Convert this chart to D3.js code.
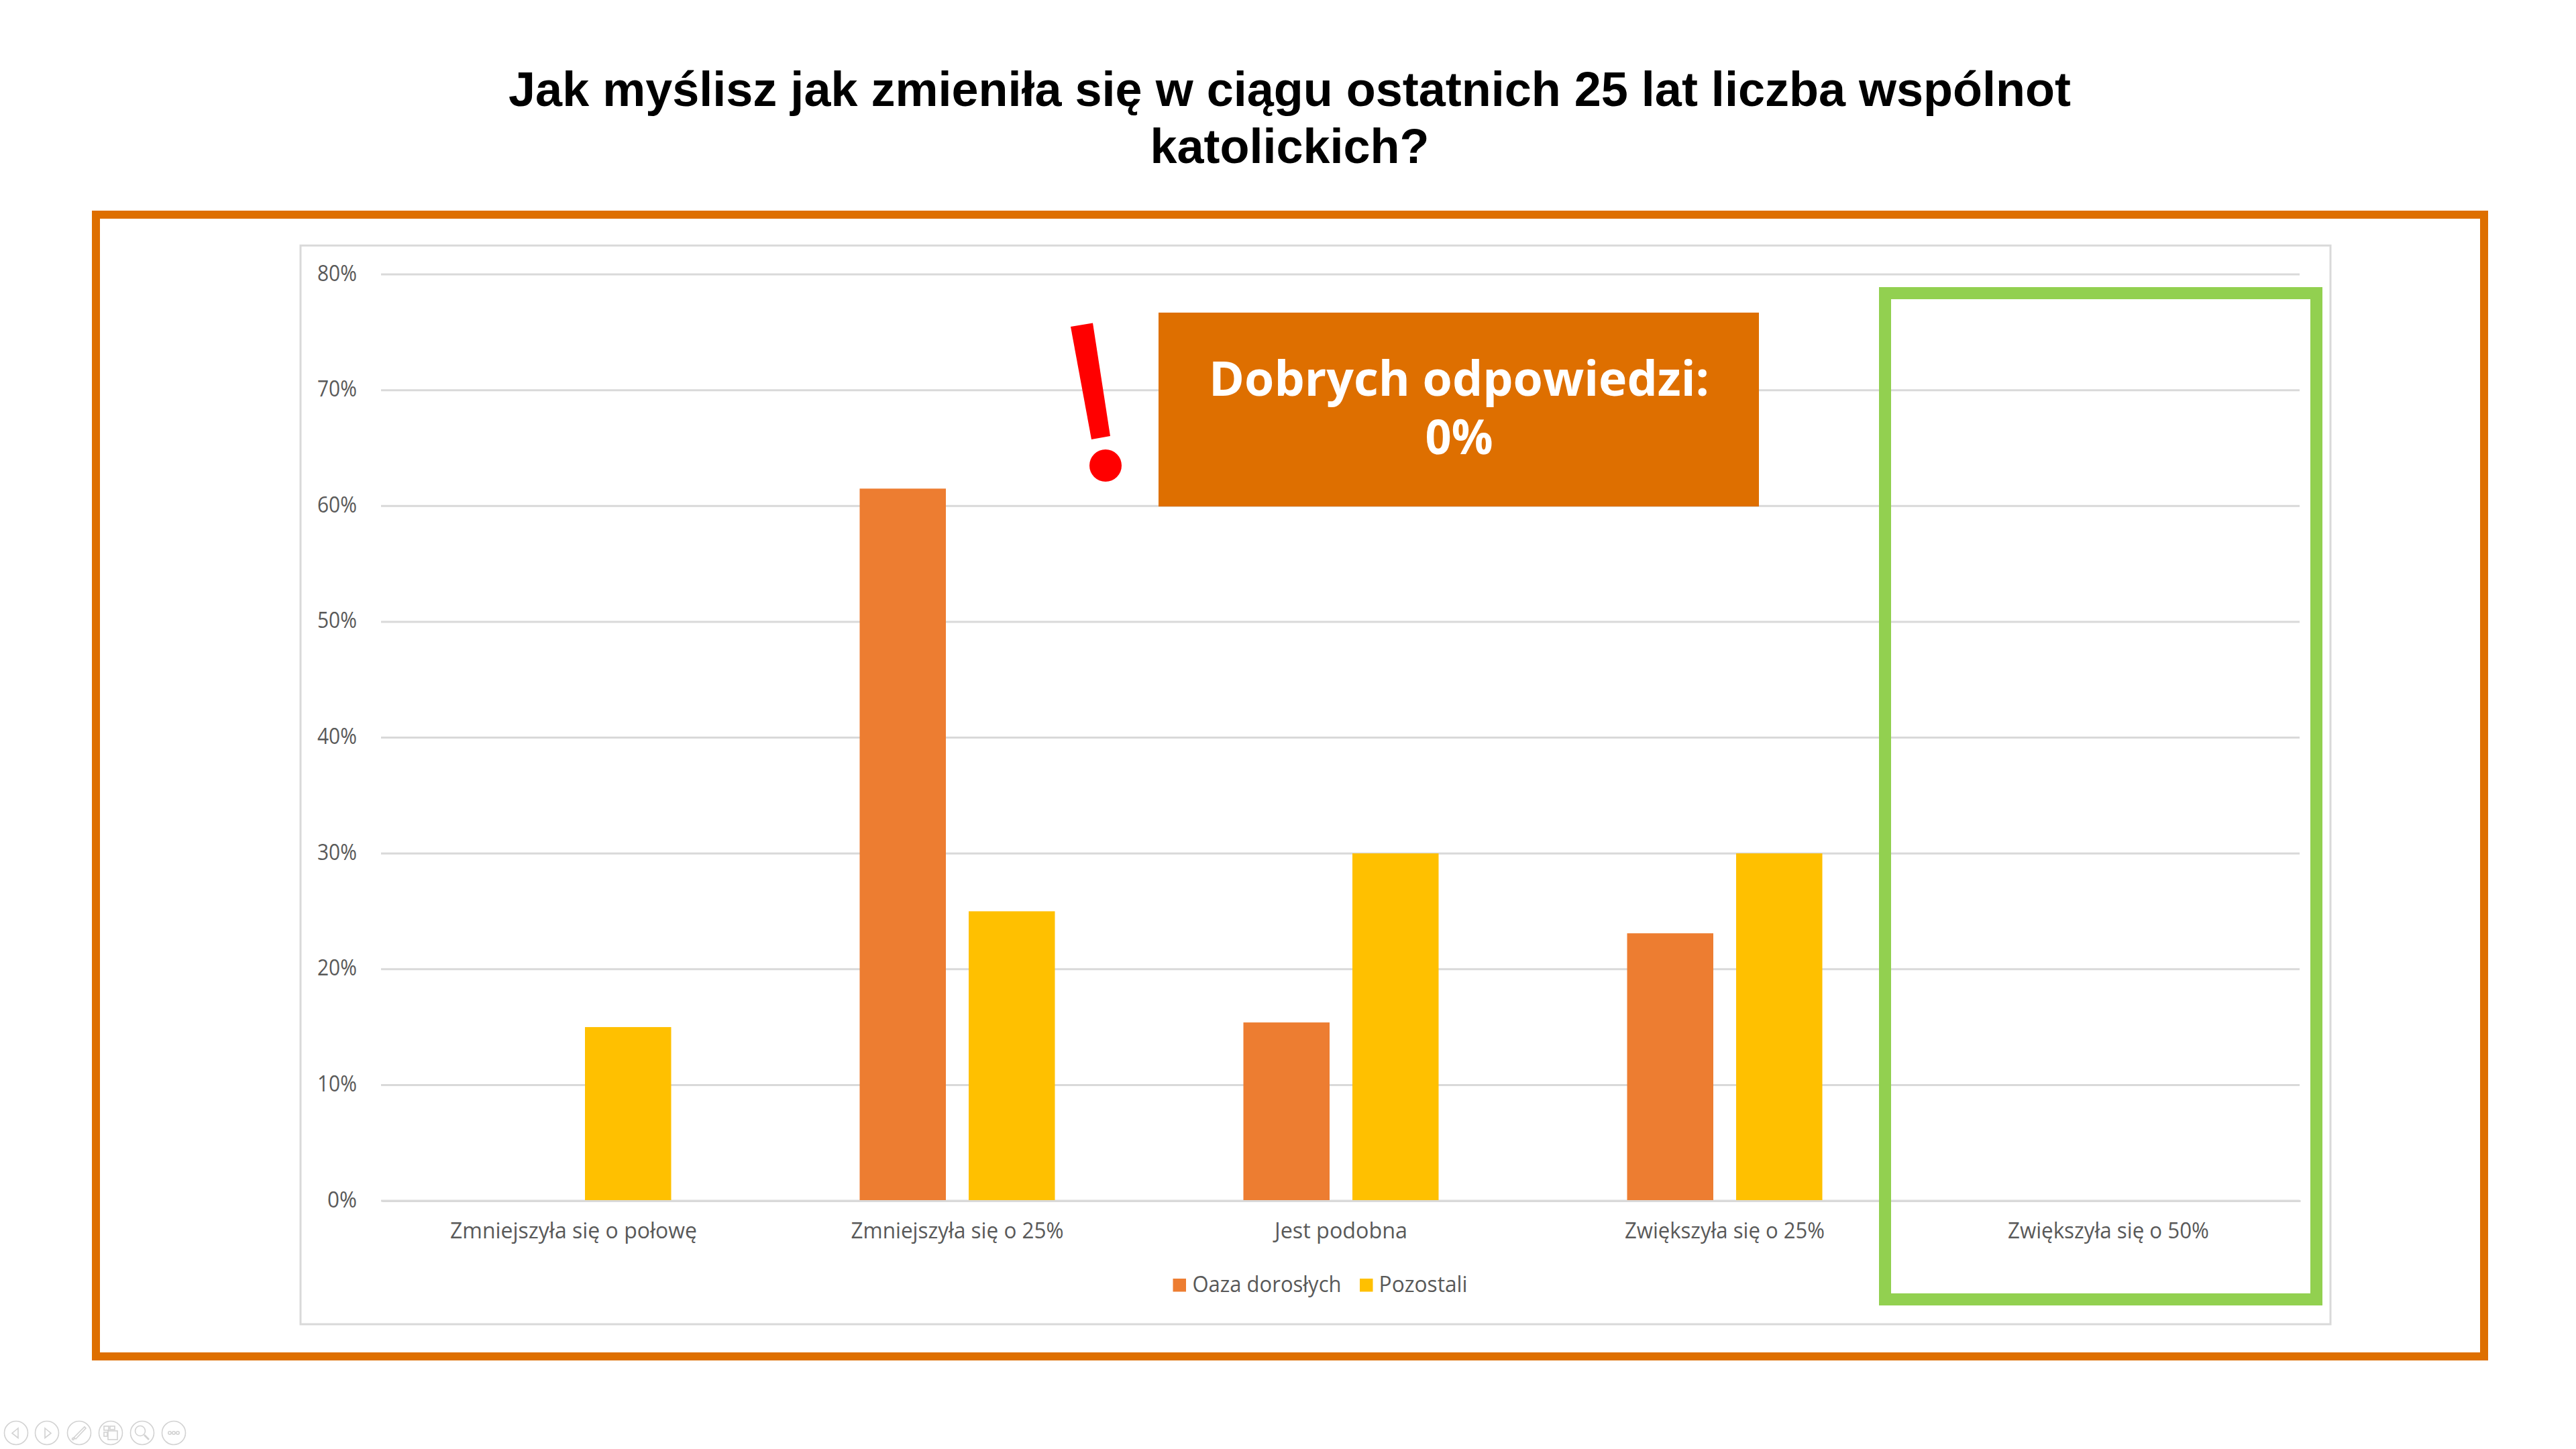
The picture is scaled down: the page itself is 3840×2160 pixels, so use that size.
<!DOCTYPE html>
<html lang="pl">
<head>
<meta charset="utf-8">
<title>Jak myślisz jak zmieniła się liczba wspólnot katolickich?</title>
<script src="https://cdn.jsdelivr.net/npm/d3@7"></script>
<style>
html,body{margin:0;padding:0;background:#fff;}
svg{display:block;}
text{font-family:"Open Sans",sans-serif;}
</style>
</head>
<body>
<script>
// ---- data ----
const categories = ["Zmniejszyła się o połowę","Zmniejszyła się o 25%","Jest podobna","Zwiększyła się o 25%","Zwiększyła się o 50%"];
const seriesNames = ["Oaza dorosłych","Pozostali"];
const oazaDoroslych = [0, 61.5, 15.4, 23.1, 0];
const pozostali = [15, 25, 30, 30, 0];
const yTicks = [0,10,20,30,40,50,60,70,80];
const titleLines = ["Jak myślisz jak zmieniła się w ciągu ostatnich 25 lat liczba wspólnot","katolickich?"];
const calloutLines = ["Dobrych odpowiedzi:","0%"];

// ---- layout and styles ----
const W=3840,H=2160;
const plot={left:568,right:3428,top:409,bottom:1790};
const C={orange:"#ED7D31",yellow:"#FFC000",frame:"#DE6F00",green:"#92D050",grid:"#D9D9D9",text:"#595959",red:"#FF0000"};
const seriesColors=[C.orange,C.yellow];
const catLabelWidths=[368,317,198,298,300];
const legendLayout=[{sw:1748.5,tx:1777.5,w:222},{sw:2027,tx:2055.6,w:132}];

const svg=d3.select("body").append("svg").attr("width",W).attr("height",H).attr("viewBox",`0 0 ${W} ${H}`);
svg.append("rect").attr("width",W).attr("height",H).attr("fill","#fff");

// title
svg.append("g").selectAll("text").data(titleLines).join("text")
  .attr("x",1922.5).attr("y",(d,i)=>158+i*85.3)
  .attr("text-anchor","middle")
  .style("font-family","'Liberation Sans',Arial,sans-serif")
  .style("font-weight",700).style("font-size","72px").attr("fill","#000")
  .text(d=>d);

// outer frame
svg.append("rect").attr("x",143).attr("y",320).attr("width",3560).attr("height",1702)
  .attr("fill","none").attr("stroke",C.frame).attr("stroke-width",12);
// chart frame
svg.append("rect").attr("x",448).attr("y",366).attr("width",3026).attr("height",1608)
  .attr("fill","#fff").attr("stroke",C.grid).attr("stroke-width",3);

// scales
const y=d3.scaleLinear().domain([0,80]).range([plot.bottom,plot.top]);
const x0=d3.scaleBand().domain(categories).range([plot.left+1,plot.right+1]);
const x1=d3.scaleBand().domain(seriesNames)
  .range([x0.bandwidth()/2-145.5,x0.bandwidth()/2+145.5]).paddingInner(34/162.5);

// y axis with gridlines
const yAxis=svg.append("g").attr("transform",`translate(${plot.left},0)`)
  .call(d3.axisLeft(y).tickValues(yTicks).tickFormat(d=>d+"%").tickSize(0).tickPadding(36));
yAxis.select(".domain").remove();
yAxis.selectAll("text").attr("fill",C.text)
  .style("font-family","'Open Sans',sans-serif").style("font-size","32px")
  .attr("textLength",d=>d===0?44:59).attr("lengthAdjust","spacingAndGlyphs").attr("dy","9px");
svg.append("g").selectAll("line").data(yTicks).join("line")
  .attr("x1",plot.left).attr("x2",plot.right).attr("y1",d=>y(d)).attr("y2",d=>y(d))
  .attr("stroke",C.grid).attr("stroke-width",3);

// bars
[oazaDoroslych,pozostali].forEach((vals,s)=>{
  svg.append("g").attr("fill",seriesColors[s]).selectAll("rect")
    .data(vals.map((v,i)=>({v,c:categories[i]})).filter(d=>d.v>0)).join("rect")
    .attr("x",d=>x0(d.c)+x1(seriesNames[s]))
    .attr("width",x1.bandwidth())
    .attr("y",d=>y(d.v))
    .attr("height",d=>y(0)-y(d.v));
});

// x axis
const xAxis=svg.append("g").attr("transform",`translate(0,${plot.bottom})`)
  .call(d3.axisBottom(x0).tickSize(0).tickPadding(30));
xAxis.select(".domain").attr("stroke",C.grid).attr("stroke-width",3);
xAxis.selectAll("text").attr("fill",C.text).attr("dy",0).attr("y",56)
  .style("font-family","'Open Sans',sans-serif").style("font-size","32px")
  .attr("textLength",(d,i)=>catLabelWidths[i]).attr("lengthAdjust","spacingAndGlyphs");

// legend
const lg=svg.append("g").selectAll("g").data(seriesNames).join("g");
lg.append("rect").attr("x",(d,i)=>legendLayout[i].sw).attr("y",1906).attr("width",19.5).attr("height",19.5)
  .attr("fill",(d,i)=>seriesColors[i]);
lg.append("text").attr("x",(d,i)=>legendLayout[i].tx).attr("y",1926)
  .attr("fill",C.text).style("font-size","32px")
  .attr("textLength",(d,i)=>legendLayout[i].w).attr("lengthAdjust","spacingAndGlyphs")
  .text(d=>d);

// green highlight
svg.append("rect").attr("x",2810).attr("y",437).attr("width",643).attr("height",1500)
  .attr("fill","none").attr("stroke",C.green).attr("stroke-width",18);

// callout
svg.append("rect").attr("x",1727).attr("y",466).attr("width",895).attr("height",289).attr("fill",C.frame);
const calloutWidths=[746,101];
svg.append("g").selectAll("text").data(calloutLines).join("text")
  .attr("x",2175).attr("y",(d,i)=>590+i*87).attr("text-anchor","middle")
  .attr("fill","#fff").style("font-weight",700).style("font-size","71px")
  .attr("textLength",(d,i)=>calloutWidths[i]).attr("lengthAdjust","spacingAndGlyphs")
  .text(d=>d);

// exclamation mark
svg.append("path").attr("d","M1596 487L1629 481.5L1655 650L1627 655Z").attr("fill",C.red);
svg.append("circle").attr("cx",1648).attr("cy",694).attr("r",24).attr("fill",C.red);

// slide-show controls
const nav=[24,70,118,165,212,259];
const ng=svg.append("g").attr("fill","none").attr("stroke","#d2d2d2").attr("stroke-width",1.6);
nav.forEach((cx,i)=>{
  const g=ng.append("g").attr("transform",`translate(${cx},2136)`);
  g.append("circle").attr("r",17.5);
  if(i===0) g.append("path").attr("d","M3 -7L-6 0.5L3 7.5Z");
  if(i===1) g.append("path").attr("d","M-3 -7L6 0.5L-3 7.5Z");
  if(i===2){ g.append("path").attr("d","M-8 7L8 -9L10 -7L-5 9Z"); g.append("circle").attr("cx",-9).attr("cy",9).attr("r",1.5); }
  if(i===3){ g.append("rect").attr("x",-10).attr("y",-10).attr("width",7).attr("height",6);
    g.append("rect").attr("x",-1).attr("y",-10).attr("width",7).attr("height",5);
    g.append("rect").attr("x",-10).attr("y",-1).attr("width",5).attr("height",6);
    g.append("rect").attr("x",-4).attr("y",-3).attr("width",14).attr("height",13); }
  if(i===4){ g.append("circle").attr("cx",-3).attr("cy",-3).attr("r",7.5); g.append("path").attr("d","M3 3L10 10").attr("stroke-width",2.6); }
  if(i===5){ [-6,0,6].forEach(dx=>g.append("circle").attr("cx",dx).attr("cy",0).attr("r",2.2)); }
});
</script>
</body>
</html>
